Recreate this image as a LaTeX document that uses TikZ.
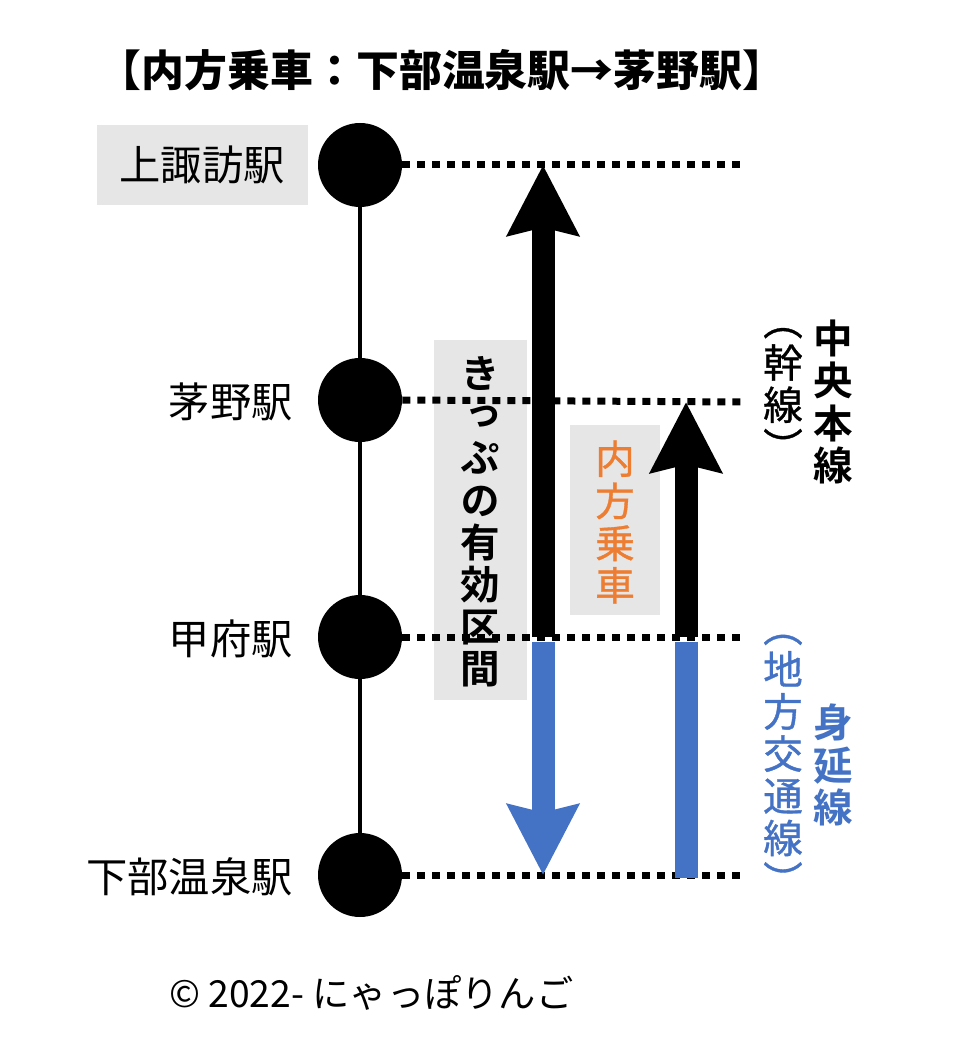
\documentclass[tikz,border=0pt]{standalone}
\usepackage{fontspec}
\setmainfont{Noto Sans CJK JP}
\newfontfamily\vjp[RawFeature=+vert, FakeBold=0.9]{Noto Sans CJK JP}
\newfontfamily\vjpb[RawFeature=+vert]{Noto Sans CJK JP Bold}
\usetikzlibrary{arrows.meta}
\definecolor{boxgray}{HTML}{E7E6E6}
\definecolor{localblue}{HTML}{4472C4}
\definecolor{rideorange}{HTML}{ED7D31}
\begin{document}
\begin{tikzpicture}[x=0.2mm, y=-0.2mm,
  station/.style={circle, fill=black, minimum size=16.8mm, inner sep=0pt},
  stname/.style={anchor=east, inner sep=0pt, font=\fontsize{23.5}{26}\selectfont},
  dotline/.style={line width=1.4mm, dash pattern=on 1.6mm off 1.4mm},
  vtext/.style={align=center, inner sep=0pt, font=\vjp\fontsize{22.5}{24}\selectfont},
  vbold/.style={align=center, inner sep=0pt, font=\vjpb\fontsize{22.5}{24}\selectfont},
  bigarrow/.style={line width=4.6mm, -{Stealth[length=14mm, width=14mm, inset=1.5mm]}}]
\useasboundingbox (0,0) rectangle (960,1057);
\node[font=\bfseries\fontsize{24.4}{28}\selectfont] (title) at (442,70) {【内方乗車：下部温泉駅→茅野駅】};
\node[station] (kami) at (360,165) {};
\node[station] (chino) at (360,400) {};
\node[station] (kofu) at (360,637) {};
\node[station] (shimobe) at (360,875) {};
\draw[line width=0.8mm] (kami) -- (chino) -- (kofu) -- (shimobe);
\node[fill=boxgray, minimum width=42.2mm, minimum height=16mm, font=\fontsize{23.5}{26}\selectfont] (kamin) at (202,165) {上諏訪駅};
\node[stname] (chinon) at (293,402) {茅野駅};
\node[stname] (kofun) at (293,639) {甲府駅};
\node[stname] (shimoben) at (293,877) {下部温泉駅};
\node[fill=boxgray, minimum width=18.6mm, minimum height=72mm] (validbox) at (480,520) {};
\node[vbold] (valid) at (480,522) {き\\っ\\ぷ\\の\\有\\効\\区\\間};
\node[fill=boxgray, minimum width=18mm, minimum height=37.8mm] (ridebox) at (615,520) {};
\node[vtext, text=rideorange] (ride) at (615,522) {内\\方\\乗\\車};
\coordinate (kamiR) at (740,165);
\coordinate (chinoR) at (745,402);
\coordinate (kofuR) at (740,637);
\coordinate (shimobeR) at (740,875);
\draw[dotline] (kami.east) -- (kamiR);
\draw[dotline] (chino.east) -- (chinoR);
\draw[dotline] (kofu.east) -- (kofuR);
\draw[dotline] (shimobe.east) -- (shimobeR);
\coordinate (a1top) at (543,165);
\coordinate (a1mid) at (543,637);
\coordinate (a1low) at (543,642);
\coordinate (a1bot) at (543,875);
\coordinate (a2top) at (686,402);
\coordinate (a2mid) at (686,637);
\coordinate (a2low) at (686,642);
\coordinate (a2bot) at (686,878);
\draw[bigarrow] (a1mid) -- (a1top);
\draw[bigarrow, draw=localblue, fill=localblue] (a1low) -- (a1bot);
\draw[bigarrow] (a2mid) -- (a2top);
\draw[line width=4.6mm, localblue] (a2low) -- (a2bot);
\node[vbold] (chuo) at (833,402) {中\\央\\本\\線};
\node[vtext] (kansen) at (783,395) {（\\幹\\線\\）};
\node[vbold, text=localblue] (minobu) at (833,765) {身\\延\\線};
\node[vtext, text=localblue] (chiho) at (783,765) {（\\地\\方\\交\\通\\線\\）};
\node[anchor=west, font=\fontsize{21.2}{24}\selectfont] (copy) at (163,993) {© 2022- にゃっぽりんご};
\end{tikzpicture}
\end{document}
